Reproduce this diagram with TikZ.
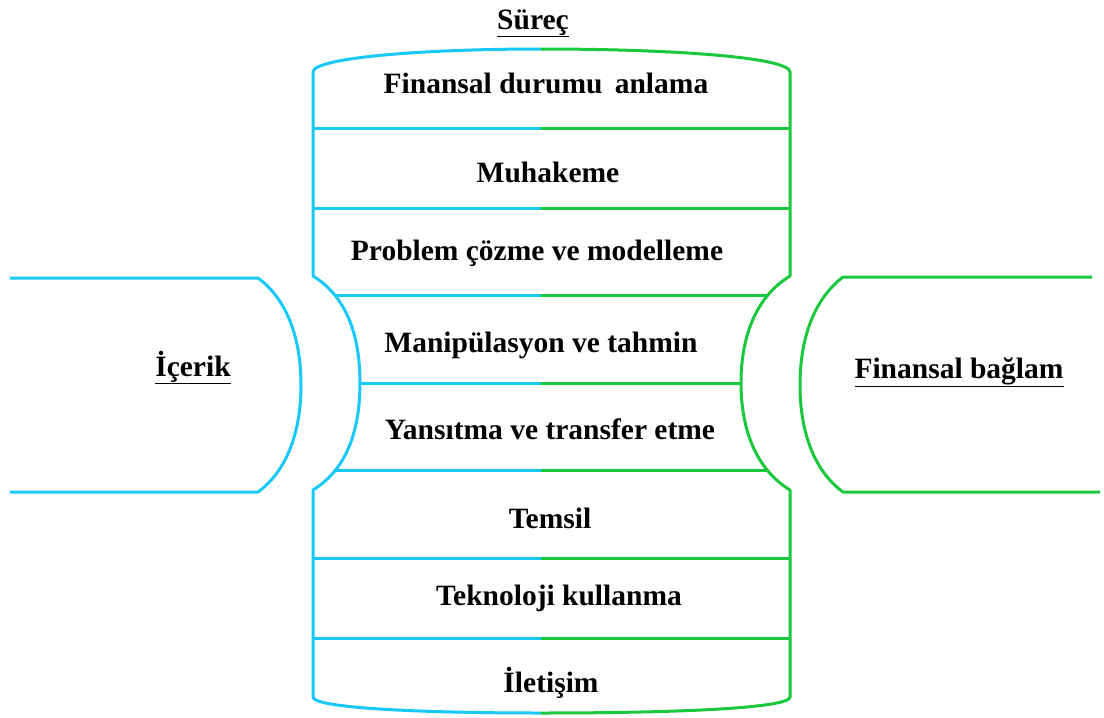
\documentclass[tikz,border=0pt]{standalone}
\usepackage{fontspec}
\setmainfont{Liberation Serif}
\definecolor{cy}{RGB}{25,200,250}
\definecolor{gr}{RGB}{25,200,60}
\newcommand{\ul}[1]{\underline{#1}}
\begin{document}
\begin{tikzpicture}[x=1pt,y=-1pt,
  cl/.style={draw=cy,line width=3pt,line join=round},
  gl/.style={draw=gr,line width=3pt,line join=round},
  lbl/.style={font=\fontsize{29.5}{34}\selectfont\bfseries,inner sep=0pt,anchor=base}]
\useasboundingbox (0,0) rectangle (1104,718);
% middle horizontal lines, clipped to the concave region
\begin{scope}
\clip (313,276) .. controls (349,298) and (360,340) .. (360,383) .. controls (360,426) and (349,468) .. (313,490) -- (790,490) .. controls (754,468) and (741,426) .. (741,383) .. controls (741,340) and (754,298) .. (790,276) -- cycle;
\foreach \yy in {295,383,470}{
  \draw[cl] (300,\yy) -- (541,\yy);
  \draw[gl] (541,\yy) -- (800,\yy);
}
\end{scope}
% other horizontal lines
\foreach \yy in {128,208,558,638}{
  \draw[cl] (313,\yy) -- (541,\yy);
  \draw[gl] (541,\yy) -- (790,\yy);
}
% left (cyan) outline of the column
\draw[cl] (541,49) .. controls (420,49) and (313,58) .. (313,72) -- (313,276)
  .. controls (349,298) and (360,340) .. (360,383) .. controls (360,426) and (349,468) .. (313,490)
  -- (313,697) .. controls (313,708) and (420,713) .. (541,713);
% right (green) outline of the column
\draw[gl] (541,49) .. controls (680,49) and (790,58) .. (790,72) -- (790,276)
  .. controls (754,298) and (741,340) .. (741,383) .. controls (741,426) and (754,468) .. (790,490)
  -- (790,697) .. controls (790,708) and (680,713) .. (541,713);
% left D shape
\draw[cl] (10,278) -- (258,278) .. controls (288,300) and (301,340) .. (301,385)
  .. controls (301,430) and (288,470) .. (258,492) -- (10,492);
% right D shape
\draw[gl] (1092,277) -- (843,277) .. controls (813,300) and (800,340) .. (800,385)
  .. controls (800,430) and (813,470) .. (843,492) -- (1100,492);
% labels
\node[lbl] (surec) at (533,29) {\ul{Süreç}};
\node[lbl] (t1) at (546,93) {Finansal durumu\, anlama};
\node[lbl] (t2) at (548,182) {Muhakeme};
\node[lbl] (t3) at (537,260) {Problem çözme ve modelleme};
\node[lbl] (t4) at (541,352) {Manipülasyon ve tahmin};
\node[lbl] (t5) at (550,439) {Yansıtma ve transfer etme};
\node[lbl] (t6) at (550,528) {Temsil};
\node[lbl] (t7) at (559,605) {Teknoloji kullanma};
\node[lbl] (t8) at (551,692) {İletişim};
\node[lbl] (icerik) at (193,376) {\ul{İçerik}};
\node[lbl] (fb) at (959,378) {\ul{Finansal bağlam}};
\end{tikzpicture}
\end{document}
